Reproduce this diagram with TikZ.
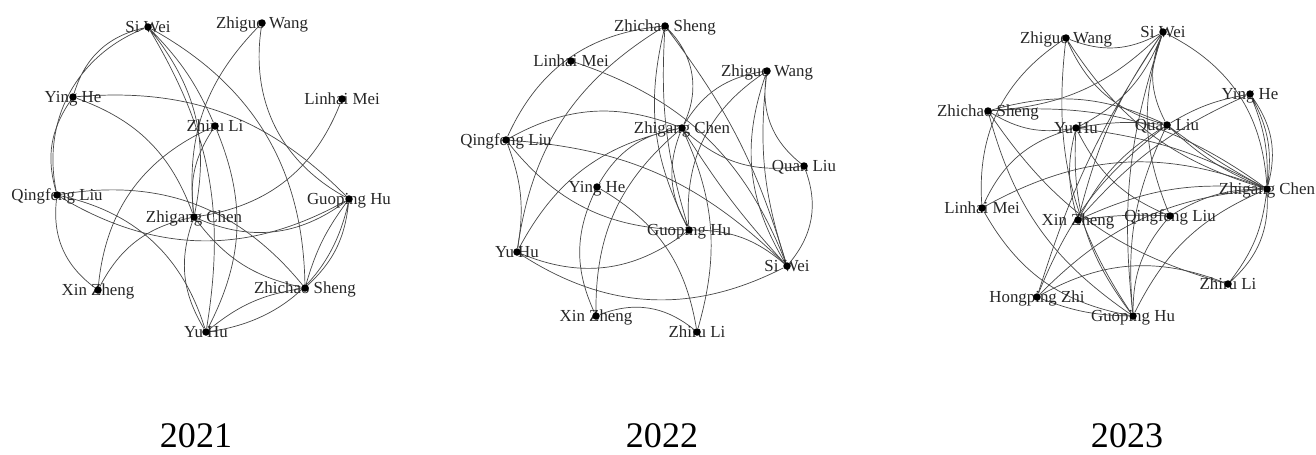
\documentclass[tikz,border=0pt]{standalone}
\usepackage{fontspec}
\setmainfont{Liberation Serif}
\usetikzlibrary{backgrounds}
\tikzset{
  au/.style  ={circle, fill=black, inner sep=0pt, minimum size=1.5mm},
  who/.style ={font=\fontsize{9.6}{11}\selectfont, text=black!85, inner sep=0pt, text height=1.45ex, text depth=0pt},
  yr/.style  ={font=\fontsize{20.5}{24}\selectfont, anchor=base},
  tie/.style ={draw=black!72, line width=.4pt},
}
\newcommand{\aut}[3]{\node[who] (#1t) at (#2) {#3}; \node[au] (#1) at (#2) {};}

\begin{document}
\begin{tikzpicture}[x=0.02cm, y=-0.02cm]
  \path[use as bounding box] (0,0) rectangle (1316,454);

  % 2021
  \aut{sw1}{148,27}{Si Wei}
  \aut{zw1}{262,23}{Zhiguo Wang}
  \aut{yh1}{73,97}{Ying He}
  \aut{lm1}{342,99}{Linhai Mei}
  \aut{zl1}{215,126}{Zhiru Li}
  \aut{ql1}{57,195}{Qingfeng Liu}
  \aut{gh1}{349,199}{Guoping Hu}
  \aut{zc1}{194,217}{Zhigang Chen}
  \aut{xz1}{98,290}{Xin Zheng}
  \aut{zs1}{305,288}{Zhichao Sheng}
  \aut{yu1}{206,332}{Yu Hu}
  \node[yr] (y21) at (196,447) {2021};

  % 2022
  \aut{zs2}{665,26}{Zhichao Sheng}
  \aut{lm2}{571,61}{Linhai Mei}
  \aut{zw2}{767,71}{Zhiguo Wang}
  \aut{zc2}{682,128}{Zhigang Chen}
  \aut{ql2}{506,140}{Qingfeng Liu}
  \aut{qu2}{804,166}{Quan Liu}
  \aut{yh2}{597,187}{Ying He}
  \aut{gh2}{689,230}{Guoping Hu}
  \aut{yu2}{517,252}{Yu Hu}
  \aut{sw2}{787,266}{Si Wei}
  \aut{xz2}{596,316}{Xin Zheng}
  \aut{zl2}{697,332}{Zhiru Li}
  \node[yr] (y22) at (662,447) {2022};

  % 2023
  \aut{zw3}{1066,38}{Zhiguo Wang}
  \aut{sw3}{1163,32}{Si Wei}
  \aut{yh3}{1250,94}{Ying He}
  \aut{zs3}{988,111}{Zhichao Sheng}
  \aut{yu3}{1076,128}{Yu Hu}
  \aut{qu3}{1167,125}{Quan Liu}
  \aut{zc3}{1267,189}{Zhigang Chen}
  \aut{lm3}{982,208}{Linhai Mei}
  \aut{xz3}{1078,220}{Xin Zheng}
  \aut{ql3}{1170,216}{Qingfeng Liu}
  \aut{zl3}{1228,284}{Zhiru Li}
  \aut{hz3}{1037,297}{Hongping Zhi}
  \aut{gh3}{1133,316}{Guoping Hu}
  \node[yr] (y23) at (1127,447) {2023};

  \begin{scope}[on background layer]
    % 2021
    \draw[tie] (sw1) to[bend right=30] (yh1)  (sw1) to[bend right=40] (ql1)
               (sw1) to[bend left=10] (zl1)   (sw1) to[bend left=25] (zc1)
               (sw1) to[bend left=20] (yu1)   (sw1) to[bend left=30] (zs1);
    \draw[tie] (yh1) to[bend right=25] (ql1)  (yh1) to[bend left=25] (gh1)
               (yh1) to[bend left=25] (zc1);
    \draw[tie] (zw1) to[bend right=25] (zc1)  (zw1) to[bend right=35] (gh1)
               (lm1) to[bend left=30] (zc1);
    \draw[tie] (zl1) to[bend right=30] (xz1)  (zl1) to[bend left=25] (yu1)
               (zl1) to[bend right=20] (zc1);
    \draw[tie] (ql1) to[bend right=30] (xz1)  (ql1) to[bend right=30] (gh1)
               (ql1) to[bend left=30] (zs1)   (ql1) to[bend left=30] (yu1);
    \draw[tie] (zc1) to[bend right=30] (gh1)  (zc1) to[bend right=25] (xz1)
               (zc1) to[bend right=25] (yu1)  (zc1) to[bend right=20] (zs1);
    \draw[tie] (gh1) to[bend left=20] (zs1)   (gh1) to[bend right=10] (zs1)
               (gh1) to[bend left=35] (yu1)   (zs1) to[bend right=15] (yu1);

    % 2022
    \draw[tie] (zs2) to[bend right=30] (ql2)  (zs2) to[bend right=25] (yu2)
               (zs2) to[bend left=35] (zc2)   (zs2) to[bend right=20] (gh2)
               (zs2) to[bend right=10] (gh2)  (zs2) to[bend left=10] (sw2);
    \draw[tie] (lm2) to[bend left=25] (sw2);
    \draw[tie] (ql2) to[bend left=25] (zc2)   (ql2) to[bend left=20] (sw2)
               (ql2) to[bend right=25] (gh2)  (ql2) to[bend left=15] (yu2);
    \draw[tie] (zc2) to[bend right=25] (yu2)  (zc2) to[bend right=25] (yh2)
               (zc2) to[bend right=25] (xz2)  (zc2) to[bend right=25] (gh2)
               (zc2) to[bend right=5] (sw2)   (zc2) to[bend right=25] (qu2)
               (zc2) to[bend left=20] (zl2);
    \draw[tie] (yh2) to[bend right=25] (xz2)  (yh2) to[bend left=25] (zl2)
               (gh2) to[bend left=30] (yu2)   (gh2) to[bend left=20] (sw2)
               (yu2) to[bend right=30] (sw2)  (xz2) to[bend left=30] (zl2);
    \draw[tie] (zw2) to[bend right=30] (gh2)  (zw2) to[bend right=25] (zc2)
               (zw2) to[bend right=25] (sw2)  (zw2) to[bend right=12] (sw2)
               (zw2) to[bend right=30] (qu2)  (qu2) to[bend left=30] (sw2);

    % 2023
    \draw[tie] (zw3) to[bend right=25] (sw3)  (zw3) to[bend right=30] (lm3)
               (zw3) to[bend right=20] (gh3)  (zw3) to[bend right=25] (qu3)
               (zw3) to[bend right=20] (zc3);
    \draw[tie] (sw3) to[bend left=20] (zs3)   (sw3) to[bend left=20] (yu3)
               (sw3) to[bend left=30] (zc3)   (sw3) to[bend right=25] (qu3)
               (sw3) to[bend right=10] (xz3)  (sw3) to[bend right=12] (gh3)
               (sw3) to[bend right=8] (hz3);
    \draw[tie] (lm3) to[bend left=25] (zc3)   (lm3) to[bend left=25] (yu3)
               (lm3) to[bend right=25] (gh3);
    \draw[tie] (zs3) to[bend right=20] (gh3)  (zs3) to[bend right=20] (zl3)
               (zs3) to[bend left=20] (qu3)   (zs3) to[bend right=20] (yu3)
               (zs3) to[bend left=20] (zc3);
    \draw[tie] (yu3) to[bend left=8] (qu3)    (yu3) to[bend left=10] (zc3)
               (yu3) to[bend right=15] (xz3)  (yu3) to[bend right=20] (gh3)
               (yu3) to[bend right=20] (ql3);
    \draw[tie] (qu3) to[bend right=15] (xz3)  (qu3) to[bend right=15] (gh3)
               (yh3) to[bend right=12] (xz3)  (yh3) to[bend right=10] (qu3);
    \draw[tie] (hz3) to[bend left=15] (qu3)   (hz3) to[bend left=20] (zc3)
               (hz3) to[bend left=25] (zl3)   (hz3) to[bend right=10] (gh3);
    \draw[tie] (xz3) to[bend left=15] (zc3)   (xz3) to[bend left=5] (ql3)
               (ql3) to[bend left=20] (sw3)   (ql3) to[bend right=20] (gh3)
               (ql3) to[bend left=15] (zc3);
    \draw[tie] (zc3) to[bend right=20] (gh3)  (zc3) to[bend left=25] (zl3)
               (zc3) to[bend left=15] (zl3)   (zc3) to[bend right=25] (yh3)
               (zc3) to[bend right=18] (yh3)  (zc3) to[bend right=12] (yh3)
               (zc3) to[bend left=10] (qu3)   (zc3) to[bend left=4] (qu3);
  \end{scope}
\end{tikzpicture}
\end{document}
